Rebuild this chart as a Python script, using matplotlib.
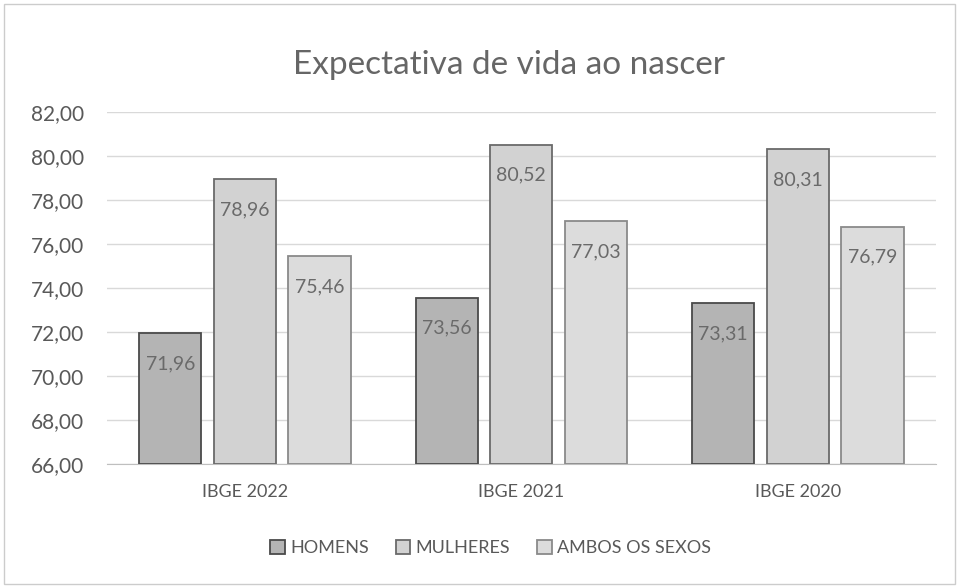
import numpy as np
import matplotlib.pyplot as plt
from matplotlib.patches import Rectangle

categorias = ['IBGE 2022', 'IBGE 2021', 'IBGE 2020']
series = ['HOMENS', 'MULHERES', 'AMBOS OS SEXOS']
homens = [71.96, 73.56, 73.31]
mulheres = [78.96, 80.52, 80.31]
ambos = [75.46, 77.03, 76.79]
yticks = [66, 68, 70, 72, 74, 76, 78, 80, 82]

plt.rcParams['font.family'] = ['Lato', 'DejaVu Sans']

cores = ['#b4b4b4', '#d2d2d2', '#dcdcdc']
bordas = ['#4a4a4a', '#6a6a6a', '#8a8a8a']
texto = '#6a6a6a'

fig = plt.figure(figsize=(9.61, 5.86), dpi=100)
ax = fig.add_axes([0.111, 0.208, 0.863, 0.601])

x = np.arange(len(categorias))
w = 0.225
passo = 0.27
valores = [homens, mulheres, ambos]
for i, vals in enumerate(valores):
    pos = x + (i - 1) * passo
    bars = ax.bar(pos, np.array(vals) - 66, w, bottom=66, color=cores[i],
                  edgecolor=bordas[i], linewidth=1.3, label=series[i], zorder=3)
    for b, v in zip(bars, vals):
        ax.annotate(f'{v:.2f}'.replace('.', ','), (b.get_x() + b.get_width() / 2, v),
                    xytext=(0, -22), textcoords='offset points', ha='center',
                    va='center', fontsize=14, color=texto, zorder=4)

ax.set_ylim(66, 82)
ax.set_xlim(-0.5, 2.5)
ax.set_yticks(yticks)
ax.set_yticklabels([f'{t:.2f}'.replace('.', ',') for t in yticks])
ax.set_xticks(x)
ax.set_xticklabels(categorias)
ax.tick_params(axis='y', length=0, labelsize=15, labelcolor='#595959', pad=16)
ax.tick_params(axis='x', length=0, labelsize=13, labelcolor='#595959', pad=14)
ax.grid(axis='y', color='#d9d9d9', linewidth=1, zorder=0)
for s in ['top', 'right', 'left']:
    ax.spines[s].set_visible(False)
ax.spines['bottom'].set_color('#bfbfbf')

fig.text(0.53, 0.889, 'Expectativa de vida ao nascer', ha='center', va='center',
         fontsize=24, color='#666666')

leg = ax.legend(loc='center', bbox_to_anchor=(0.463, -0.238), ncol=3, frameon=False,
                fontsize=13, handlelength=0.8, handleheight=0.8, columnspacing=1.5,
                handletextpad=0.3)
for t in leg.get_texts():
    t.set_color('#595959')

fig.add_artist(Rectangle((0.004, 0.004), 0.99, 0.99, transform=fig.transFigure,
                         fill=False, edgecolor='#cccccc', linewidth=1))

fig.savefig('out.png', dpi=100)
